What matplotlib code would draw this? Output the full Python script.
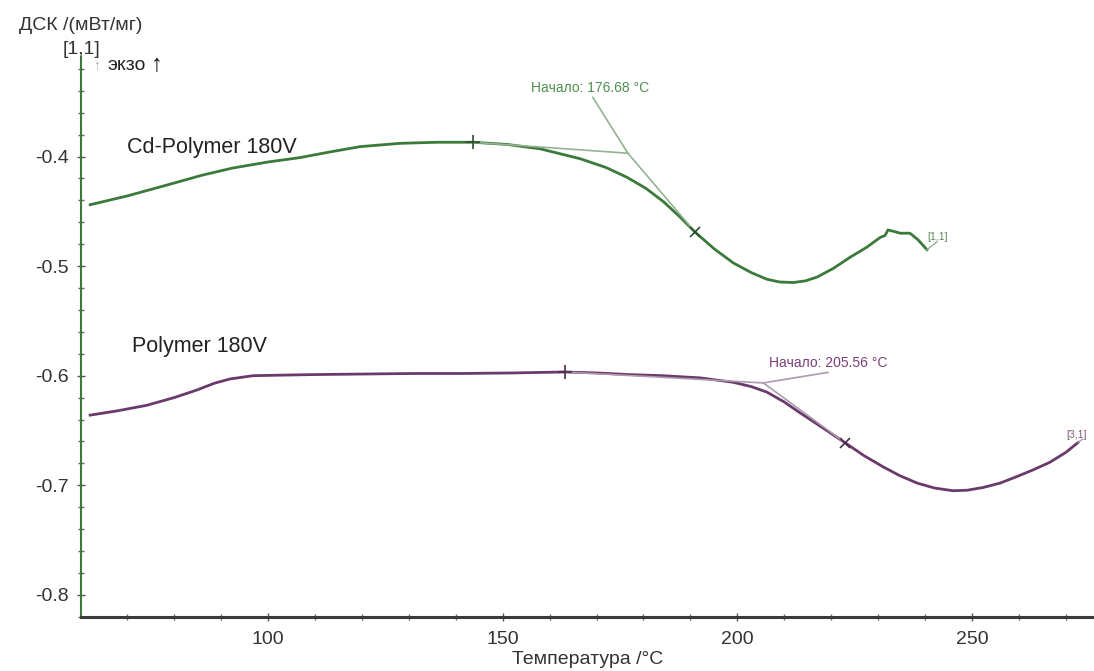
import matplotlib
matplotlib.use("Agg")
import matplotlib.pyplot as plt
from matplotlib.ticker import MultipleLocator

plt.rcParams["font.family"] = ["Liberation Sans", "DejaVu Sans"]

# Cd-Polymer 180V (green curve)
cd_temp = [62.1, 70, 78.5, 86, 92.5, 100, 106.8, 113, 119.6, 128.1, 136, 143.7,
           151, 158, 166.5, 172, 176.5, 180.5, 184.2, 187.5, 191, 195, 199.1,
           203, 206.3, 209, 211.9, 214.5, 217, 220.5, 224, 227.5, 230.4, 231.5,
           232.1, 233.5, 234.7, 236.8, 238.5, 240.4]
cd_dsc = [-0.444, -0.436, -0.426, -0.417, -0.4105, -0.405, -0.401, -0.396,
          -0.391, -0.388, -0.387, -0.387, -0.389, -0.393, -0.402, -0.410,
          -0.419, -0.429, -0.441, -0.454, -0.469, -0.484, -0.497, -0.506,
          -0.512, -0.5145, -0.515, -0.5135, -0.510, -0.502, -0.492, -0.483,
          -0.474, -0.472, -0.467, -0.4685, -0.470, -0.470, -0.476, -0.485]

# Polymer 180V (purple curve)
pol_temp = [62.1, 68, 74.2, 80, 84.9, 88.5, 91.9, 96.8, 103, 109.6, 120, 130.9,
            141, 152.2, 163.3, 170, 177, 184, 192.1, 199.1, 203, 206.3, 210,
            213.4, 218, 222.9, 227, 231, 234.5, 238.3, 242, 246, 249, 252.4,
            256, 259.6, 263, 266.6, 270, 272.6]
pol_dsc = [-0.636, -0.632, -0.627, -0.620, -0.613, -0.607, -0.603, -0.600,
           -0.5995, -0.599, -0.5985, -0.598, -0.598, -0.5975, -0.5966, -0.5975,
           -0.599, -0.600, -0.602, -0.606, -0.610, -0.615, -0.624, -0.634,
           -0.647, -0.661, -0.673, -0.683, -0.691, -0.698, -0.7025, -0.705,
           -0.7045, -0.702, -0.698, -0.692, -0.686, -0.679, -0.670, -0.661]

# onset construction: baseline point, onset, inflection point, label anchor
cd_onset = 176.68
cd_base = (143.7, -0.387)
cd_onset_pt = (176.68, -0.397)
cd_infl = (191.0, -0.469)
cd_label_pt = (169.2, -0.346)

pol_onset = 205.56
pol_base = (163.3, -0.5966)
pol_onset_pt = (205.56, -0.6066)
pol_infl = (222.9, -0.661)
pol_label_pt = (219.3, -0.597)

GREEN = "#3b7a3b"
GREEN_LIGHT = "#93b393"
PURPLE = "#6a3a6a"
PURPLE_LIGHT = "#ae9aae"
TEXT = "#333333"

fig = plt.figure(figsize=(10.94, 6.71), dpi=100)
ax = fig.add_axes([81 / 1094, 54 / 671, 1 - 81 / 1094, 560 / 671])

ax.plot(cd_temp, cd_dsc, color=GREEN, lw=2.0, solid_joinstyle="round")
ax.plot(pol_temp, pol_dsc, color=PURPLE, lw=2.0, solid_joinstyle="round")

# tangents and leaders
for base, onset, infl, lab, col in [
    (cd_base, cd_onset_pt, cd_infl, cd_label_pt, GREEN_LIGHT),
    (pol_base, pol_onset_pt, pol_infl, pol_label_pt, PURPLE_LIGHT),
]:
    ax.plot([base[0], onset[0]], [base[1], onset[1]], color=col, lw=1.2)
    ax.plot([onset[0], infl[0]], [onset[1], infl[1]], color=col, lw=1.2)
    ax.plot([onset[0], lab[0]], [onset[1], lab[1]], color=col, lw=1.2)

# markers
ax.plot(*cd_base, marker="+", ms=10, mew=1.2, color="#2f4f2f")
ax.plot(*cd_infl, marker="x", ms=7, mew=1.2, color="#2f4f2f")
ax.plot(*pol_base, marker="+", ms=10, mew=1.2, color="#4a2a4a")
ax.plot(*pol_infl, marker="x", ms=7, mew=1.2, color="#4a2a4a")

ax.text(168.6, -0.3375, f"Начало: {cd_onset:.2f} °C", color="#4f8f4f",
        fontsize=10, ha="center", va="center")
ax.text(219.3, -0.5884, f"Начало: {pol_onset:.2f} °C", color="#7a3f7a",
        fontsize=10, ha="center", va="center")

ax.text(69.9, -0.3922, "Cd-Polymer 180V", fontsize=15.5, color="#222222",
        ha="left", va="center")
ax.text(71.0, -0.5738, "Polymer 180V", fontsize=15.5, color="#222222",
        ha="left", va="center")

# curve end tags
ax.plot([cd_temp[-1], 242.5], [cd_dsc[-1], -0.478], color=GREEN_LIGHT, lw=1)
ax.text(240.5, -0.4732, "[1,1]", fontsize=7.5, color="#5a8a5a",
        ha="left", va="center")
ax.plot([pol_temp[-1], 273.5], [pol_dsc[-1], -0.658], color=PURPLE_LIGHT, lw=1)
ax.text(270.1, -0.654, "[3,1]", fontsize=7.5, color="#7a5a7a",
        ha="left", va="center")

ax.set_xlim(60.15, 276.0)
ax.set_ylim(-0.8202, -0.3092)

ax.xaxis.set_major_locator(MultipleLocator(50))
ax.xaxis.set_minor_locator(MultipleLocator(10))
ax.yaxis.set_major_locator(MultipleLocator(0.1))
ax.yaxis.set_minor_locator(MultipleLocator(0.02))
ax.yaxis.set_major_formatter(plt.FuncFormatter(lambda v, p: f"{v:.1f}"))

for side in ["top", "right"]:
    ax.spines[side].set_visible(False)
ax.spines["left"].set_color(GREEN)
ax.spines["left"].set_linewidth(1.5)
ax.spines["bottom"].set_color("#3a3a3a")
ax.spines["bottom"].set_linewidth(2.2)

ax.tick_params(axis="both", which="major", direction="inout", length=6,
               width=1, colors="#555555", labelcolor=TEXT, labelsize=14)
ax.tick_params(axis="both", which="minor", direction="inout", length=4,
               width=1, colors="#666666")
ax.tick_params(axis="y", pad=6)
ax.tick_params(axis="x", pad=7)

ax.set_xlabel("Температура /°C", fontsize=14, color=TEXT, labelpad=2)

# y-axis header
fig.text(81 / 1094, 1 - 26 / 671, "ДСК /(мВт/мг)", fontsize=14, color=TEXT,
         ha="center", va="center")
fig.text(81 / 1094, 1 - 49 / 671, "[1,1]", fontsize=14, color=TEXT,
         ha="center", va="center")
fig.text(97 / 1094, 1 - 66 / 671, "↑", fontsize=10, color="#aaaaaa",
         ha="center", va="center")
fig.text(107 / 1094, 1 - 66 / 671, "экзо", fontsize=14, color="#222222",
         ha="left", va="center")
fig.text(157 / 1094, 1 - 65 / 671, "↑", fontsize=17, color="#111111",
         ha="center", va="center")

fig.savefig("out.png", dpi=100)
plt.close(fig)
